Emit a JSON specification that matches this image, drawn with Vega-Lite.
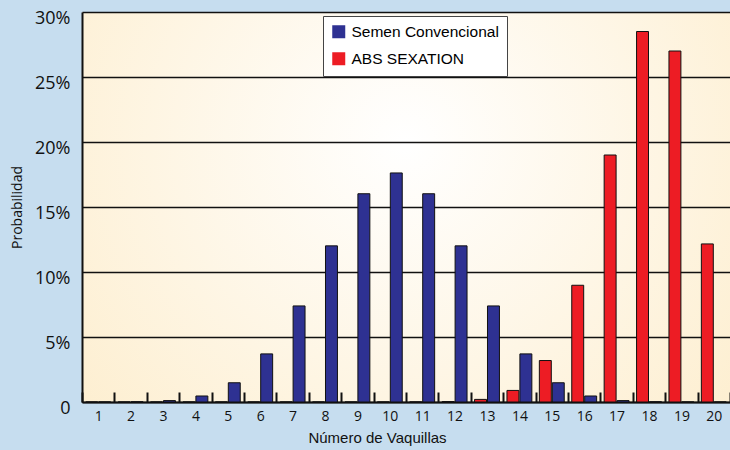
{
  "$schema": "https://vega.github.io/schema/vega-lite/v6.json",
  "width": 648,
  "height": 390,
  "autosize": {"type": "none"},
  "padding": {"left": 82, "top": 12, "right": 0, "bottom": 48},
  "background": "#c6ddef",
  "config": {
    "view": {
      "stroke": null,
      "fill": {"gradient": "radial", "x1": 0.5, "y1": 0.4, "r1": 0, "x2": 0.5, "y2": 0.4, "r2": 0.75,
        "stops": [{"offset": 0, "color": "#ffffff"}, {"offset": 1, "color": "#fdecc9"}]}
    }
  },
  "data": {
    "values": [
      {"n": 1, "serie": "Semen Convencional", "p": 0.002},
      {"n": 2, "serie": "Semen Convencional", "p": 0.018},
      {"n": 3, "serie": "Semen Convencional", "p": 0.109},
      {"n": 4, "serie": "Semen Convencional", "p": 0.462},
      {"n": 5, "serie": "Semen Convencional", "p": 1.48},
      {"n": 6, "serie": "Semen Convencional", "p": 3.70},
      {"n": 7, "serie": "Semen Convencional", "p": 7.39},
      {"n": 8, "serie": "Semen Convencional", "p": 12.01},
      {"n": 9, "serie": "Semen Convencional", "p": 16.02},
      {"n": 10, "serie": "Semen Convencional", "p": 17.62},
      {"n": 11, "serie": "Semen Convencional", "p": 16.02},
      {"n": 12, "serie": "Semen Convencional", "p": 12.01},
      {"n": 13, "serie": "Semen Convencional", "p": 7.39},
      {"n": 14, "serie": "Semen Convencional", "p": 3.70},
      {"n": 15, "serie": "Semen Convencional", "p": 1.48},
      {"n": 16, "serie": "Semen Convencional", "p": 0.462},
      {"n": 17, "serie": "Semen Convencional", "p": 0.109},
      {"n": 18, "serie": "Semen Convencional", "p": 0.018},
      {"n": 19, "serie": "Semen Convencional", "p": 0.002},
      {"n": 20, "serie": "Semen Convencional", "p": 0.0001},
      {"n": 1, "serie": "ABS SEXATION", "p": 0},
      {"n": 2, "serie": "ABS SEXATION", "p": 0},
      {"n": 3, "serie": "ABS SEXATION", "p": 0},
      {"n": 4, "serie": "ABS SEXATION", "p": 0},
      {"n": 5, "serie": "ABS SEXATION", "p": 0},
      {"n": 6, "serie": "ABS SEXATION", "p": 0},
      {"n": 7, "serie": "ABS SEXATION", "p": 0},
      {"n": 8, "serie": "ABS SEXATION", "p": 0},
      {"n": 9, "serie": "ABS SEXATION", "p": 0},
      {"n": 10, "serie": "ABS SEXATION", "p": 0},
      {"n": 11, "serie": "ABS SEXATION", "p": 0.005},
      {"n": 12, "serie": "ABS SEXATION", "p": 0.036},
      {"n": 13, "serie": "ABS SEXATION", "p": 0.20},
      {"n": 14, "serie": "ABS SEXATION", "p": 0.89},
      {"n": 15, "serie": "ABS SEXATION", "p": 3.19},
      {"n": 16, "serie": "ABS SEXATION", "p": 8.98},
      {"n": 17, "serie": "ABS SEXATION", "p": 19.0},
      {"n": 18, "serie": "ABS SEXATION", "p": 28.5},
      {"n": 19, "serie": "ABS SEXATION", "p": 27.0},
      {"n": 20, "serie": "ABS SEXATION", "p": 12.16}
    ]
  },
  "mark": {"type": "bar", "stroke": "#111111", "strokeWidth": 1},
  "encoding": {
    "x": {
      "field": "n", "type": "ordinal",
      "scale": {"paddingInner": 0, "paddingOuter": 0},
      "axis": {
        "title": "Número de Vaquillas",
        "titleFont": "Liberation Sans, Arial, sans-serif",
        "titleFontSize": 15, "titleFontWeight": "normal", "titleColor": "#111111",
        "titleX": 295, "titlePadding": 7,
        "labelAngle": 0, "labelFont": "Open Sans, sans-serif", "labelFontSize": 14, "labelColor": "#111111",
        "labelPadding": 17,
        "tickBand": "extent", "tickSize": -10, "tickColor": "#111111", "tickWidth": 2,
        "domainColor": "#111111", "domainWidth": 2, "grid": false
      }
    },
    "xOffset": {
      "field": "serie", "type": "nominal",
      "scale": {"domain": ["ABS SEXATION", "Semen Convencional"], "paddingInner": 0.077, "paddingOuter": 0.29}
    },
    "y": {
      "field": "p", "type": "quantitative",
      "scale": {"domain": [0, 30], "nice": false},
      "axis": {
        "title": "Probabilidad",
        "titleFont": "Open Sans, sans-serif", "titleFontSize": 14, "titleFontWeight": "normal", "titleColor": "#111111",
        "titlePadding": 10,
        "values": [0, 5, 10, 15, 20, 25, 30],
        "labelExpr": "datum.value == 0 ? '0' : datum.value + '%'",
        "labelFont": "Open Sans, sans-serif", "labelFontSize": 18, "labelColor": "#111111",
        "labelPadding": 12, "labelOffset": 6,
        "ticks": false,
        "grid": true, "gridColor": "#111111", "gridWidth": 1.6, "gridOpacity": 1,
        "domainColor": "#111111", "domainWidth": 2
      }
    },
    "color": {
      "field": "serie", "type": "nominal",
      "scale": {"domain": ["Semen Convencional", "ABS SEXATION"], "range": ["#2e3192", "#ed1c24"]},
      "legend": {
        "title": null, "orient": "none", "legendX": 241, "legendY": 4,
        "symbolType": "square", "symbolSize": 169, "symbolStrokeWidth": 0,
        "labelFont": "Liberation Sans, Arial, sans-serif",
        "labelFontSize": 15.5, "labelColor": "#000000", "labelOffset": 5, "labelLimit": 300,
        "fillColor": "#ffffff", "strokeColor": "#444444", "padding": 8, "rowPadding": 10
      }
    }
  }
}
